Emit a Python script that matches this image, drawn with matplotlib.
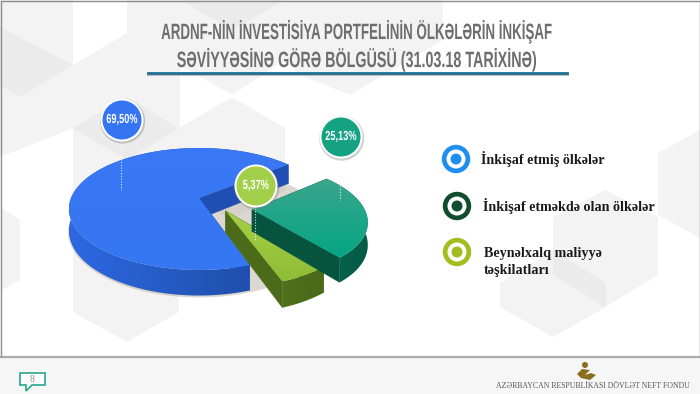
import numpy as np
import matplotlib
matplotlib.use('Agg')
from matplotlib import pyplot as plt
from matplotlib import patheffects
from matplotlib.patches import Polygon, Circle, Rectangle
from matplotlib.colors import LinearSegmentedColormap
from matplotlib.transforms import Affine2D

# Chart data
shares = [69.50, 25.13, 5.37]
share_labels = ['69,50%', '25,13%', '5,37%']
legend_labels = ['İnkişaf etmiş ölkələr', 'İnkişaf etməkdə olan ölkələr', 'Beynəlxalq maliyyə\ntəşkilatları']
title_lines = ['ARDNF-NİN İNVESTİSİYA PORTFELİNİN ÖLKƏLƏRİN İNKİŞAF',
               'SƏVİYYƏSİNƏ GÖRƏ BÖLGÜSÜ (31.03.18 TARİXİNƏ)']
footer_text = 'AZƏRBAYCAN RESPUBLİKASI DÖVLƏT NEFT FONDU'
page_number = '8'

# Pie projection, in pixels of the 700x394 picture
cx, cy = 199, 198
rx, ry = 128, 59
persp = 0.18
depth = 21
start_angle = 39

slice_order = [0, 2, 1]               # going round the pie: blue, lime, green
offsets = [(0, 0), (0.40, -0.19), (0.20, -0.21)]
radii = [1.0, 0.85, 0.97]
top_cols = [('#3a78f5', '#3576f3'), ('#3aa68c', '#03a584'), ('#a6cf48', '#8fbd35')]
wall_cols = [('#2d68e2', '#1d4a9f'), ('#06654d', '#045a45'), ('#4f701c', '#4a6a1a')]
face_cols = ['#1f4fb2', '#06533e', '#4b6a1a']
bubble_cols = ['#3574f2', '#14a283', '#a3d04a']
bubble_pos = [(122, 120), (341, 137), (256, 186)]
dot_lines = [(121, 142, 190), (340, 158, 200), (255, 208, 240)]
ring_cols = ['#1e8ff0', '#0f4d2c', '#a2bd1e']
ring_pos = [(456, 159), (457, 206), (457, 252)]
legend_pos = [(481, 159), (483, 206), (484, 262)]
narrow = ['Liberation Sans', 'DejaVu Sans']


class Squeeze(patheffects.AbstractPathEffect):
    # narrows text around a pixel column, there is no condensed font here
    def __init__(self, sx, x0):
        super().__init__()
        self.sx = sx
        self.x0 = x0

    def draw_path(self, renderer, gc, tpath, affine, rgbFace=None):
        squeezed = affine + Affine2D().translate(-self.x0, 0).scale(self.sx, 1).translate(self.x0, 0)
        renderer.draw_path(gc, tpath, squeezed, rgbFace)


def project(x, y, down=0):
    w = 1 + persp*y
    return cx + rx*x/w, cy - ry*y/w + down/w


def gradient_fill(pts, cols, zorder, horizontal=False):
    pts = np.array(pts)
    poly = Polygon(pts, fc='none', ec='none', zorder=zorder)
    ax.add_patch(poly)
    cmap = LinearSegmentedColormap.from_list('grad', cols)
    grad = np.linspace(0, 1, 64)
    grad = grad.reshape(1, -1) if horizontal else grad.reshape(-1, 1)
    im = ax.imshow(grad, cmap=cmap, aspect='auto', zorder=zorder,
                   extent=(pts[:, 0].min(), pts[:, 0].max(), pts[:, 1].max(), pts[:, 1].min()))
    im.set_clip_path(poly)


fig = plt.figure(figsize=(7, 3.94), dpi=100, facecolor='white')
ax = fig.add_axes([0, 0, 1, 1])

# Background hexagons
hexes = [[(0, 0), (73, 0), (73, 65), (20, 97), (0, 85)],
         [(0, 27), (73, 65), (20, 97), (0, 85)],
         [(0, 85), (20, 97), (73, 65), (127, 33), (127, 0), (180, 0), (180, 128), (127, 97), (73, 128), (0, 157)],
         [(180, 0), (443, 0), (443, 40), (350, 95), (300, 75), (285, 60), (232, 95), (180, 65)],
         [(180, 0), (285, 0), (232, 30)],
         [(73, 128), (127, 97), (179, 128), (179, 312), (127, 342), (73, 312)],
         [(73, 128), (127, 97), (179, 128), (127, 160)],
         [(179, 128), (232, 97), (285, 128), (285, 190), (232, 220), (179, 190)],
         [(2, 208), (20, 220), (20, 280), (2, 290)],
         [(553, 217), (605, 190), (658, 217), (658, 275), (605, 307), (553, 275)],
         [(500, 283), (553, 250), (606, 283), (606, 307), (553, 337), (500, 307)],
         [(658, 153), (700, 130), (700, 238), (658, 215)]]
for h in hexes:
    ax.add_patch(Polygon(h, closed=True, fc='#dcdcdc', ec='none', alpha=0.33, zorder=1))

# Slide frame and footer band
ax.add_patch(Rectangle((0.5, 0.5), 699, 357, fc='none', ec='#8c8c8c', lw=1, zorder=2))
ax.add_patch(Rectangle((0, 358), 700, 36, fc='#f6f6f6', ec='none', zorder=2))
ax.plot([0, 700], [357, 357], color='#9a9a9a', lw=1.6, alpha=0.8, zorder=3)

# Title
for line, y, sx in zip(title_lines, [32, 60], [0.6, 0.645]):
    ax.text(357, y, line, ha='center', va='center', fontsize=16, fontweight='bold', color='#6e6e6e',
            family=narrow, zorder=5, path_effects=[Squeeze(sx, 357)])
ax.plot([148, 567], [74, 74], color='#bdbdbd', lw=2.2, zorder=4)
ax.plot([148, 567], [72.5, 72.5], color='#1f6f93', lw=2, zorder=5)

# Pie
sweeps = [s/sum(shares)*360 for s in shares]
starts = {}
ang = start_angle
for i in slice_order:
    starts[i] = ang
    ang += sweeps[i]

# thin shadow under the pie
a = np.radians(np.linspace(0, 360, 120))
px, py = project(np.cos(a)*1.005, np.sin(a)*1.005, depth + 1.2)
ax.add_patch(Polygon(np.c_[px, py], fc='#b0a899', ec='none', alpha=0.45, zorder=6))

z = 7
for i in slice_order:
    ox, oy = offsets[i]
    r = radii[i]
    angs = np.radians(np.linspace(starts[i], starts[i] + sweeps[i], 100))
    xs = ox + r*np.cos(angs)
    ys = oy + r*np.sin(angs)

    # outer wall
    tx, ty = project(xs, ys)
    bx, by = project(xs, ys, depth)
    wall = np.r_[np.c_[tx, ty], np.c_[bx, by][::-1]]
    gradient_fill(wall, wall_cols[i], z, horizontal=True)
    z += 1

    # cut faces
    for k in [0, -1]:
        q = [project(ox, oy), project(xs[k], ys[k]), project(xs[k], ys[k], depth), project(ox, oy, depth)]
        ax.add_patch(Polygon(q, fc=face_cols[i], ec=face_cols[i], lw=0.3, zorder=z))
    z += 1

    # top face
    tx, ty = project(np.r_[ox, xs], np.r_[oy, ys])
    gradient_fill(np.c_[tx, ty], top_cols[i], z)
    z += 1

# Labels on the pie
for col, pos, lab, dl in zip(bubble_cols, bubble_pos, share_labels, dot_lines):
    ax.plot([dl[0], dl[0]], [dl[1], dl[2]], color='white', lw=0.8, ls=(0, (1, 1.5)), alpha=0.85, zorder=30)
    ax.add_patch(Circle((pos[0] + 0.7, pos[1] + 1.2), 22.5, fc='#777777', ec='none', alpha=0.35, zorder=31))
    ax.add_patch(Circle(pos, 21.5, fc='white', ec='none', zorder=32))
    ax.add_patch(Circle(pos, 19.5, fc=col, ec='none', zorder=33))
    ax.text(pos[0], pos[1], lab, ha='center', va='center', fontsize=9.5, fontweight='bold', color='white',
            family=narrow, zorder=34, path_effects=[Squeeze(0.7, pos[0])])

# Legend
for col, pos, lab, tp in zip(ring_cols, ring_pos, legend_labels, legend_pos):
    ax.add_patch(Circle(pos, 14.2, fc=col, ec='none', zorder=10))
    ax.add_patch(Circle(pos, 9.5, fc='white', ec='none', zorder=11))
    ax.add_patch(Circle(pos, 5.5, fc=col, ec='none', zorder=12))
    ax.text(tp[0], tp[1], lab, ha='left', va='center', fontsize=10.2, fontweight='bold', color='#1a1a1a',
            linespacing=1.35, family=['Liberation Serif', 'DejaVu Serif'], zorder=12)

# Footer: page number bubble
ax.add_patch(Polygon([(20, 373), (45, 373), (45, 385), (32, 385), (26, 391), (26, 385), (20, 385)], closed=True,
                     fc='white', ec='#2aa68f', lw=1.2, zorder=10))
ax.text(32, 379, page_number, ha='center', va='center', fontsize=7, color='#888888',
        family='Liberation Serif', zorder=11)

# Footer: fund logo and name
ax.add_patch(Circle((585, 365), 3, fc='#8a6d1e', ec='none', zorder=10))
ax.add_patch(Polygon([(577, 374), (582, 369), (590, 370), (585, 375), (591, 373), (596, 375), (590, 380), (581, 378)],
                     closed=True, fc='#8a6d1e', ec='none', zorder=10))
ax.text(593, 385.5, footer_text, ha='center', va='center', fontsize=5.6, color='#555555',
        family=['Liberation Serif', 'DejaVu Serif'], zorder=10)

ax.set_xlim(0, 700)
ax.set_ylim(394, 0)
ax.axis('off')
fig.savefig('out.png', dpi=100)
